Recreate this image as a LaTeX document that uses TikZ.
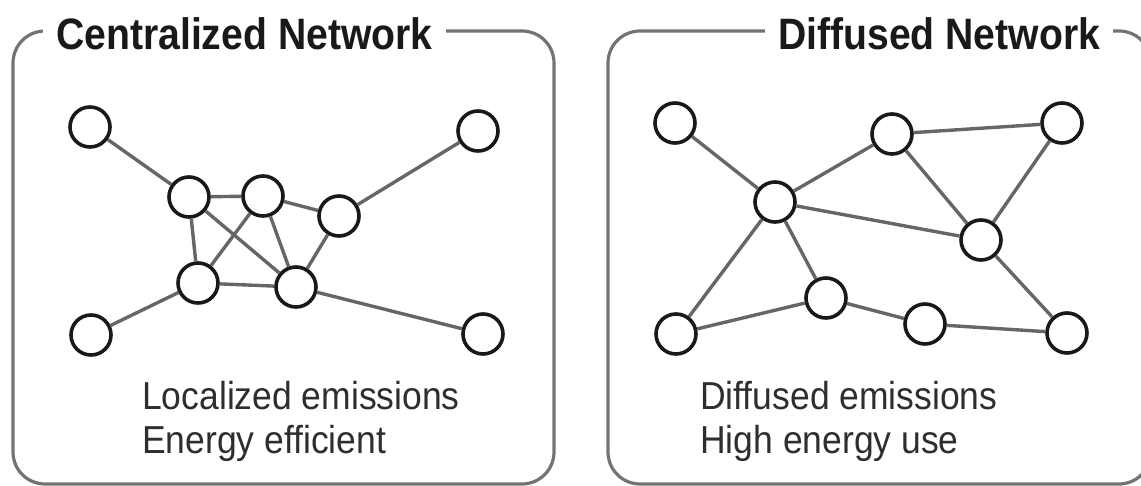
\documentclass[tikz,border=0pt]{standalone}
\usepackage{fontspec}
\setmainfont{Liberation Sans}
\newfontfamily\headfont{Liberation Sans}[FakeStretch=0.89]
\newfontfamily\notefont{Liberation Sans}[FakeStretch=0.91]
\begin{document}
\begin{tikzpicture}[x=1pt,y=-1pt,
  vertex/.style={circle,draw=black!90,fill=white,line width=3.6pt,minimum size=40pt,inner sep=0pt},
  link/.style={draw=black!60,line width=3.4pt},
  frame/.style={draw=black!55,line width=3.2pt,rounded corners=32pt},
  heading/.style={fill=white,inner xsep=13pt,inner ysep=2pt,anchor=base west,font=\headfont\fontsize{44}{46}\selectfont\bfseries,text=black!90},
  note/.style={inner sep=0pt,anchor=base west,font=\notefont\fontsize{39}{44}\selectfont,text=black!82}]
\useasboundingbox (0,0) rectangle (1141,486);
\clip (0,0) rectangle (1141,486);

% panel frames
\draw[frame] (13,31) rectangle (554,484);
\draw[frame] (608,31) rectangle (1151,484);
\node[heading] (t1) at (43,50) {Centralized Network};
\node[heading] (t2) at (765,50) {Diffused Network};

% centralized network
\node[vertex] (a) at (90,127) {};
\node[vertex] (b) at (478,131) {};
\node[vertex] (c) at (189,197) {};
\node[vertex] (d) at (263,196) {};
\node[vertex] (e) at (339,216) {};
\node[vertex] (f) at (198,283) {};
\node[vertex] (g) at (296,287) {};
\node[vertex] (h) at (91,335) {};
\node[vertex] (i) at (483,334) {};
\foreach \u/\v in {a/c,b/e,c/d,d/e,c/f,c/g,d/f,d/g,e/g,f/g,f/h,g/i}
  \draw[link] (\u) -- (\v);

% diffused network
\node[vertex] (p1) at (675,123) {};
\node[vertex] (p2) at (892,134) {};
\node[vertex] (p3) at (1062,123) {};
\node[vertex] (p4) at (775,202) {};
\node[vertex] (p5) at (981,240) {};
\node[vertex] (p6) at (826,298) {};
\node[vertex] (p7) at (676,334) {};
\node[vertex] (p8) at (925,324) {};
\node[vertex] (p9) at (1067,333) {};
\foreach \u/\v in {p1/p4,p4/p2,p2/p3,p2/p5,p3/p5,p4/p5,p4/p7,p4/p6,p7/p6,p6/p8,p8/p9,p5/p9}
  \draw[link] (\u) -- (\v);

% captions
\node[note] (n1) at (142,409) {Localized emissions};
\node[note] (n2) at (142,453) {Energy efficient};
\node[note] (n3) at (700,409) {Diffused emissions};
\node[note] (n4) at (700,453) {High energy use};
\end{tikzpicture}
\end{document}
